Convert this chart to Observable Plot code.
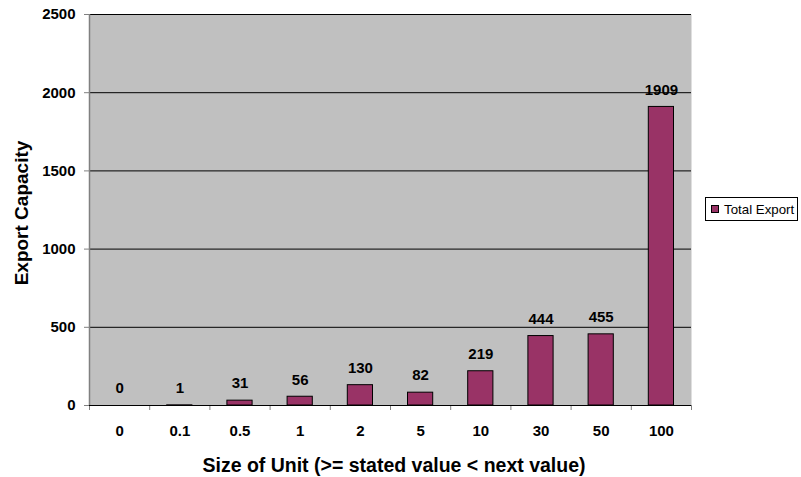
<!DOCTYPE html>
<html>
<head>
<meta charset="utf-8">
<script src="https://cdn.jsdelivr.net/npm/d3@7"></script>
<script src="https://cdn.jsdelivr.net/npm/@observablehq/plot@0.6"></script>
<style>
  html, body { margin: 0; padding: 0; background: #fff; }
  #wrap { position: relative; width: 801px; height: 477px; font-family: "Liberation Sans", Arial, sans-serif; }
  #legend {
    position: absolute; left: 705px; top: 197px; width: 93px; height: 24px;
    border: 1px solid #000; background: #fff; box-sizing: border-box;
    font-size: 13.3px; color: #000; display: flex; align-items: center; white-space: nowrap;
  }
  #legend .sw { width: 8px; height: 8px; background: #993366; border: 1px solid #000; box-sizing: border-box; margin: 0 5px 0 5px; flex: none; }
</style>
</head>
<body>
<div id="wrap"></div>
<script>
// Export capacity by unit size class
const categories = ["0", "0.1", "0.5", "1", "2", "5", "10", "30", "50", "100"];
const totalExport = [0, 1, 31, 56, 130, 82, 219, 444, 455, 1909];
const yTicks = [0, 500, 1000, 1500, 2000, 2500];

const data = categories.map((c, i) => ({i, cat: c, value: totalExport[i]}));
const boundaries = d3.range(categories.length + 1);
const centers = categories.map((c, i) => i + 0.5);

const font = "'Liberation Sans', Arial, sans-serif";

const chart = Plot.plot({
  width: 801,
  height: 477,
  marginLeft: 89,
  marginRight: 110,
  marginTop: 14,
  marginBottom: 72,
  style: {fontFamily: font, fontSize: "15px", fontWeight: "bold", color: "#000", background: "#fff"},
  x: {type: "linear", domain: [0, categories.length]},
  y: {domain: [0, 2500]},
  marks: [
    Plot.frame({fill: "#c0c0c0", stroke: null}),
    Plot.ruleY(yTicks, {stroke: "#000", strokeWidth: 1}),
    Plot.ruleX([0], {stroke: "#808080", strokeWidth: 1.5}),
    Plot.rectY(data, {
      x1: "i", x2: (d) => d.i + 1, y: "value",
      insetLeft: 17.5, insetRight: 17.5,
      fill: "#993366", stroke: "#000", strokeWidth: 1
    }),
    Plot.text(data, {
      x: (d) => d.i + 0.5, y: "value", text: (d) => String(d.value),
      dy: -17, fontSize: 15, fontWeight: "bold", fill: "#000"
    }),
    Plot.axisY({ticks: yTicks, tickSize: 5, tickPadding: 9, tickFormat: (d) => String(d), label: null, stroke: "#808080", fontWeight: "bold", fontSize: 15}),
    Plot.axisX({ticks: boundaries, tickSize: 5, tickFormat: () => "", label: null, stroke: "#808080"}),
    Plot.axisX({ticks: centers, tickSize: 0, tickPadding: 20, tickFormat: (v) => categories[Math.floor(v)], label: null, fontWeight: "bold", fontSize: 15}),
    Plot.ruleY([0], {stroke: "#000", strokeWidth: 1})
  ]
});

const svg = d3.select(chart);
svg.append("text")
  .attr("x", 394).attr("y", 472)
  .attr("text-anchor", "middle")
  .attr("font-family", font).attr("font-size", 19.5).attr("font-weight", "bold")
  .attr("fill", "#000")
  .text("Size of Unit (>= stated value < next value)");
svg.append("text")
  .attr("transform", "translate(28,213) rotate(-90)")
  .attr("text-anchor", "middle")
  .attr("font-family", font).attr("font-size", 19).attr("font-weight", "bold")
  .attr("fill", "#000")
  .text("Export Capacity");

const wrap = document.getElementById("wrap");
wrap.appendChild(chart);
const legend = document.createElement("div");
legend.id = "legend";
legend.innerHTML = '<span class="sw"></span><span>Total Export</span>';
wrap.appendChild(legend);
</script>
</body>
</html>
